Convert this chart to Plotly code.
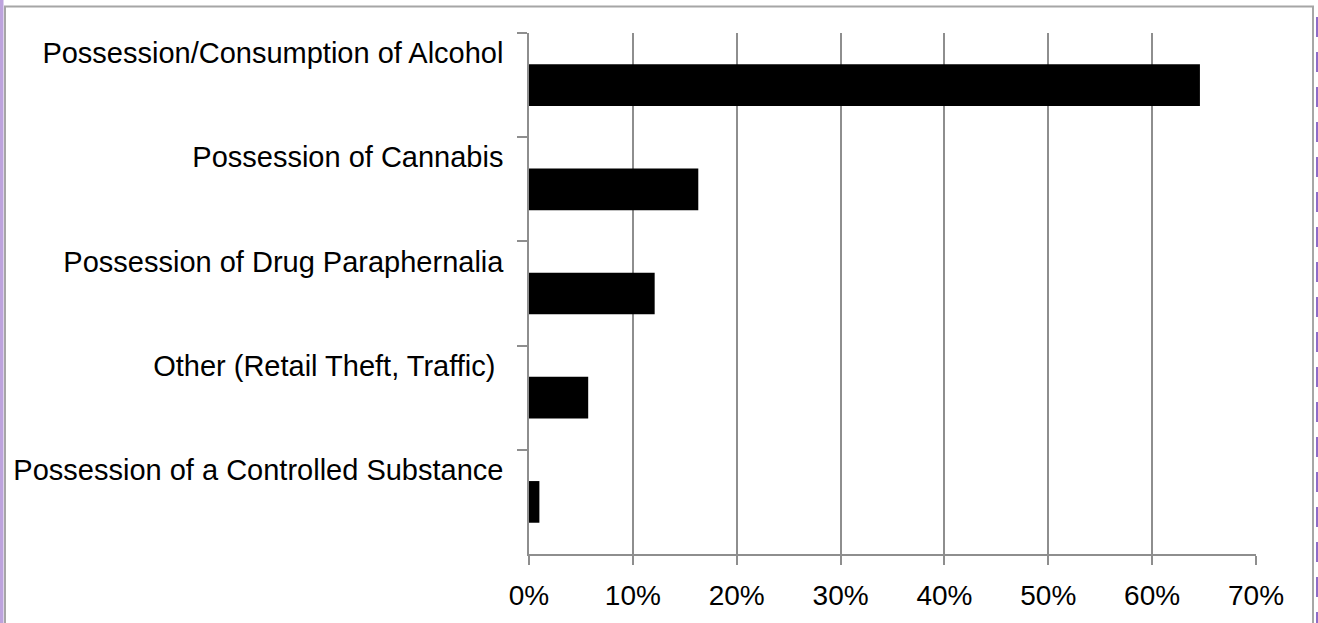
import plotly.graph_objects as go

categories = [
    "Possession/Consumption of Alcohol",
    "Possession of Cannabis",
    "Possession of Drug Paraphernalia",
    "Other (Retail Theft, Traffic)\u00a0",
    "Possession of a Controlled Substance",
]
values = [64.6, 16.3, 12.1, 5.7, 1.0]
x_ticks = [0, 10, 20, 30, 40, 50, 60, 70]
x_tick_labels = [f"{v}%" for v in x_ticks]

W, H = 1318, 623
L, R, T, B = 529, 62, 33, 69
pw, ph = W - L - R, H - T - B

def px(xp):
    return (xp - L) / pw

def py(yp):
    return (H - B - yp) / ph

GRID = "#8e8e8e"
FONT = "Liberation Sans"

fig = go.Figure(
    go.Bar(
        x=values,
        y=categories,
        orientation="h",
        marker=dict(color="#000000", line=dict(width=0)),
        width=0.4,
        hoverinfo="x+y",
    )
)

shapes = [
    # left purple strip
    dict(type="rect", xref="paper", yref="paper", x0=px(-2), x1=px(3.5), y0=py(H + 5), y1=py(-5),
         fillcolor="#bda3dd", line=dict(width=0), layer="below"),
    # gray outer border
    dict(type="rect", xref="paper", yref="paper", x0=px(5), x1=px(1313), y0=py(H + 20), y1=py(6.5),
         fillcolor="rgba(0,0,0,0)", line=dict(color="#a6a6a6", width=2), layer="below"),
    # right purple dashed line
    dict(type="line", xref="paper", yref="paper", x0=px(1317), x1=px(1317), y0=py(17), y1=py(H + 5),
         line=dict(color="#8e6cc8", width=2, dash="20px,15px"), layer="below"),
]

fig.update_layout(
    width=W,
    height=H,
    margin=dict(l=L, r=R, t=T, b=B, pad=0),
    paper_bgcolor="white",
    plot_bgcolor="white",
    showlegend=False,
    font=dict(family=FONT, size=29, color="#000000"),
    shapes=shapes,
    bargap=0.6,
)

fig.update_xaxes(
    range=[0, 70],
    tickvals=x_ticks,
    ticktext=x_tick_labels,
    showgrid=True,
    gridcolor=GRID,
    gridwidth=1.5,
    showline=True,
    linecolor=GRID,
    linewidth=1.5,
    ticks="outside",
    ticklen=9,
    tickwidth=1.5,
    tickcolor=GRID,
    zeroline=False,
    tickfont=dict(family=FONT, size=28, color="#000000"),
    ticklabelstandoff=7,
)

fig.update_yaxes(
    categoryorder="array",
    categoryarray=categories,
    autorange="reversed",
    showgrid=False,
    showline=True,
    linecolor=GRID,
    linewidth=1.5,
    ticks="outside",
    tickson="boundaries",
    ticklen=10,
    tickwidth=1.5,
    tickcolor=GRID,
    zeroline=False,
    tickfont=dict(family=FONT, size=29, color="#000000"),
    ticklabelshift=32,
    ticklabelstandoff=18,
)

fig.write_html(
    "out.html",
    config={"displayModeBar": False},
    post_script="document.body.style.margin='0';document.body.style.overflow='hidden';",
)
